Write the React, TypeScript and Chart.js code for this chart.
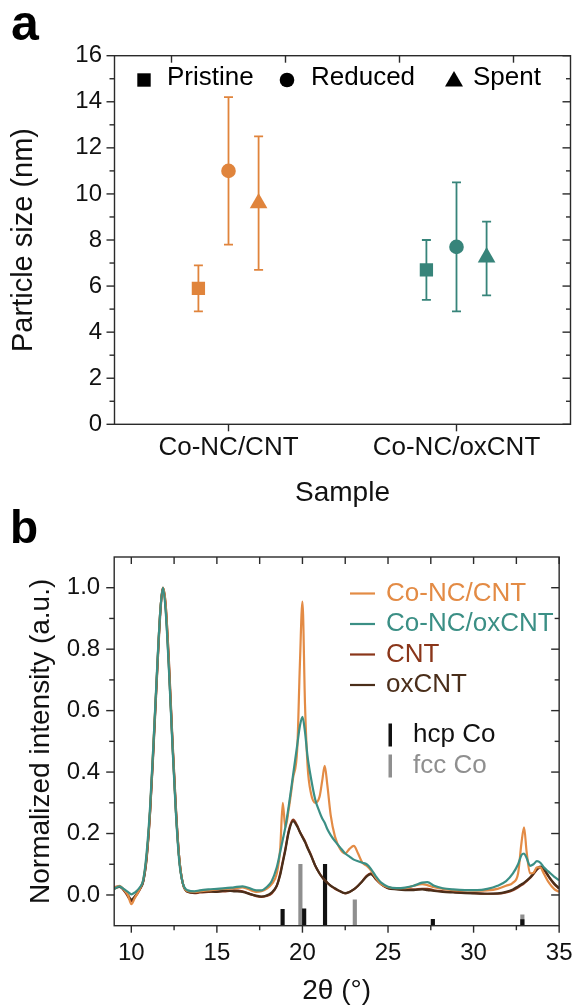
import React, { useEffect, useRef } from 'react';
import { Chart, registerables } from 'chart.js';

Chart.register(...registerables);

const FONT = "'Liberation Sans', Arial, Helvetica, sans-serif";
const TEXT = '#111111';
const FRAME = '#2a2a2a';

// ---------- Panel a: particle size ----------
const sampleLabels = ['Co-NC/CNT', 'Co-NC/oxCNT'];
const sampleColors = ['#E0843C', '#37847A'];
const stateNames = ['Pristine', 'Reduced', 'Spent'];
const pristineSize = [5.9, 6.7];
const pristineLow = [4.9, 5.4];
const pristineHigh = [6.9, 8.0];
const reducedSize = [11.0, 7.7];
const reducedLow = [7.8, 4.9];
const reducedHigh = [14.2, 10.5];
const spentSize = [9.6, 7.25];
const spentLow = [6.7, 5.6];
const spentHigh = [12.5, 8.8];
const sizeTicks = [0, 2, 4, 6, 8, 10, 12, 14, 16];
const sizeMinorTicks = [1, 3, 5, 7, 9, 11, 13, 15];
const sampleTopTicks = [0.75, 1.25, 1.75, 2.25];

// ---------- Panel b: XRD ----------
const twoTheta = [
  9.0, 9.3, 9.6, 9.8, 10.0, 10.2, 10.5, 10.7, 10.9, 11.1,
  11.3, 11.5, 11.7, 11.85, 12.0, 12.2, 12.4, 12.6, 12.8, 13.0,
  13.3, 13.7, 14.0, 14.5, 15.0, 15.5, 16.0, 16.5, 17.0, 17.3,
  17.6, 17.9, 18.2, 18.5, 18.7, 18.85, 19.0, 19.2, 19.45, 19.7,
  19.85, 20.0, 20.15, 20.3, 20.5, 20.75, 21.0, 21.15, 21.3, 21.45,
  21.65, 21.9, 22.2, 22.5, 22.75, 23.0, 23.25, 23.5, 23.75, 24.0,
  24.3, 24.6, 25.0, 25.5, 26.0, 26.5, 27.0, 27.3, 27.7, 28.2,
  28.8, 29.5, 30.2, 30.8, 31.4, 31.9, 32.3, 32.6, 32.8, 32.95,
  33.1, 33.3, 33.5, 33.7, 33.9, 34.1, 34.4, 34.7, 35.0,
];
const coNcCnt = [
  0.022, 0.030, 0.015, 0.000, -0.030, -0.010, 0.020, 0.050, 0.130, 0.280,
  0.500, 0.720, 0.930, 1.000, 0.950, 0.750, 0.500, 0.280, 0.120, 0.040,
  0.012, 0.010, 0.012, 0.015, 0.018, 0.020, 0.022, 0.025, 0.015, 0.010,
  0.012, 0.020, 0.035, 0.070, 0.150, 0.300, 0.220, 0.280, 0.380, 0.480,
  0.750, 0.955, 0.620, 0.420, 0.330, 0.300, 0.320, 0.370, 0.420, 0.360,
  0.260, 0.190, 0.150, 0.135, 0.150, 0.160, 0.135, 0.105, 0.095, 0.080,
  0.055, 0.035, 0.025, 0.022, 0.022, 0.030, 0.035, 0.032, 0.025, 0.020,
  0.016, 0.015, 0.014, 0.015, 0.020, 0.030, 0.040, 0.070, 0.170, 0.220,
  0.140, 0.070, 0.072, 0.090, 0.090, 0.070, 0.040, 0.020, 0.010,
];
const coNcOxCnt = [
  0.020, 0.028, 0.018, 0.010, 0.002, 0.008, 0.025, 0.050, 0.140, 0.290,
  0.500, 0.730, 0.930, 1.000, 0.930, 0.730, 0.490, 0.270, 0.110, 0.040,
  0.015, 0.012, 0.015, 0.018, 0.020, 0.022, 0.025, 0.028, 0.020, 0.015,
  0.015, 0.025, 0.045, 0.090, 0.140, 0.180, 0.220, 0.290, 0.390, 0.490,
  0.550, 0.580, 0.530, 0.450, 0.380, 0.310, 0.270, 0.250, 0.235, 0.215,
  0.195, 0.175, 0.155, 0.135, 0.125, 0.115, 0.110, 0.105, 0.100, 0.085,
  0.060, 0.040, 0.027, 0.022, 0.024, 0.030, 0.040, 0.042, 0.030, 0.022,
  0.018, 0.016, 0.016, 0.020, 0.030, 0.045, 0.070, 0.100, 0.130, 0.135,
  0.120, 0.095, 0.100, 0.110, 0.105, 0.090, 0.075, 0.060, 0.048,
];
const cnt = [
  0.025, 0.028, 0.012, -0.005, -0.020, -0.008, 0.018, 0.045, 0.120, 0.270,
  0.480, 0.710, 0.920, 1.000, 0.950, 0.760, 0.510, 0.290, 0.120, 0.040,
  0.010, 0.006, 0.008, 0.010, 0.012, 0.012, 0.015, 0.012, 0.002, -0.004,
  -0.006, -0.003, 0.005, 0.030, 0.070, 0.110, 0.150, 0.210, 0.245, 0.225,
  0.205, 0.190, 0.175, 0.155, 0.130, 0.095, 0.070, 0.058, 0.048, 0.040,
  0.030, 0.020, 0.012, 0.005, 0.010, 0.018, 0.030, 0.045, 0.062, 0.070,
  0.050, 0.035, 0.022, 0.020, 0.018, 0.018, 0.020, 0.020, 0.015, 0.012,
  0.010, 0.008, 0.005, 0.004, 0.004, 0.008, 0.015, 0.025, 0.032, 0.038,
  0.045, 0.055, 0.068, 0.082, 0.090, 0.082, 0.058, 0.036, 0.020,
];
const oxCnt = [
  0.020, 0.026, 0.015, 0.000, -0.015, -0.005, 0.020, 0.045, 0.125, 0.275,
  0.490, 0.720, 0.930, 1.000, 0.940, 0.740, 0.500, 0.280, 0.120, 0.040,
  0.010, 0.008, 0.010, 0.012, 0.010, 0.015, 0.012, 0.010, 0.002, -0.002,
  -0.005, -0.002, 0.008, 0.030, 0.065, 0.105, 0.145, 0.205, 0.240, 0.222,
  0.205, 0.188, 0.172, 0.152, 0.128, 0.095, 0.070, 0.058, 0.048, 0.040,
  0.030, 0.022, 0.012, 0.006, 0.010, 0.018, 0.030, 0.045, 0.060, 0.068,
  0.052, 0.035, 0.022, 0.018, 0.016, 0.016, 0.018, 0.016, 0.013, 0.010,
  0.008, 0.006, 0.005, 0.004, 0.005, 0.010, 0.018, 0.028, 0.035, 0.040,
  0.047, 0.057, 0.070, 0.085, 0.092, 0.085, 0.060, 0.038, 0.022,
];
const seriesNames = ['Co-NC/CNT', 'Co-NC/oxCNT', 'CNT', 'oxCNT'];
const seriesColors = ['#E38B45', '#3B8F85', '#8A361A', '#4A2E1A'];
const hcpPos = [18.84, 20.1, 21.32, 27.62, 32.85];
const hcpTop = [-0.047, -0.045, 0.1, -0.079, -0.08];
const fccPos = [19.88, 23.06, 32.85];
const fccTop = [0.1, -0.016, -0.065];
const refBase = -0.1;
const angleTicks = [10, 15, 20, 25, 30, 35];
const angleMinorTicks = [12.5, 17.5, 22.5, 27.5, 32.5];
const intensityTicks = [0, 0.2, 0.4, 0.6, 0.8, 1.0];
const intensityMinorTicks = [0.1, 0.3, 0.5, 0.7, 0.9];

type FrameSpec = {
  yMajor: number[];
  yMinor: number[];
  xBottomMajor: number[];
  xBottomMinor: number[];
  xTop: number[];
};

function makeFramePlugin(spec: FrameSpec) {
  return {
    id: 'frameTicks',
    afterDatasetsDraw(chart: any) {
      const { ctx, chartArea, scales } = chart;
      const { left, right, top, bottom } = chartArea;
      const xs = scales.x;
      const ys = scales.y;
      ctx.save();
      ctx.strokeStyle = FRAME;
      ctx.lineWidth = 1.4;
      ctx.strokeRect(left, top, right - left, bottom - top);
      const seg = (x1: number, y1: number, x2: number, y2: number) => {
        ctx.beginPath();
        ctx.moveTo(x1, y1);
        ctx.lineTo(x2, y2);
        ctx.stroke();
      };
      spec.yMajor.forEach((v) => {
        const y = ys.getPixelForValue(v);
        seg(left - 8, y, left, y);
        seg(right - 8, y, right, y);
      });
      spec.yMinor.forEach((v) => {
        const y = ys.getPixelForValue(v);
        seg(left - 5, y, left, y);
        seg(right - 4.5, y, right, y);
      });
      spec.xBottomMajor.forEach((v) => {
        const x = xs.getPixelForValue(v);
        seg(x, bottom, x, bottom + 7);
      });
      spec.xBottomMinor.forEach((v) => {
        const x = xs.getPixelForValue(v);
        seg(x, bottom, x, bottom + 4.5);
      });
      spec.xTop.forEach((v) => {
        const x = xs.getPixelForValue(v);
        seg(x, top, x, top + 7);
      });
      ctx.restore();
    },
  };
}

function makeLetterPlugin(letter: string, x: number, y: number, size: number) {
  return {
    id: 'panelLetter',
    afterDraw(chart: any) {
      const { ctx } = chart;
      ctx.save();
      ctx.font = `bold ${size}px ${FONT}`;
      ctx.fillStyle = '#000';
      ctx.textBaseline = 'alphabetic';
      ctx.textAlign = 'left';
      ctx.fillText(letter, x, y);
      ctx.restore();
    },
  };
}

const errorBarPlugin = {
  id: 'errorBars',
  beforeDatasetsDraw(chart: any) {
    const { ctx, scales } = chart;
    ctx.save();
    ctx.lineWidth = 1.8;
    chart.data.datasets.forEach((ds: any) => {
      ds.data.forEach((p: any, j: number) => {
        const px = scales.x.getPixelForValue(p.x);
        const yl = scales.y.getPixelForValue(ds.errLow[j]);
        const yh = scales.y.getPixelForValue(ds.errHigh[j]);
        ctx.strokeStyle = sampleColors[j];
        ctx.beginPath();
        ctx.moveTo(px, yl);
        ctx.lineTo(px, yh);
        ctx.moveTo(px - 4.5, yl);
        ctx.lineTo(px + 4.5, yl);
        ctx.moveTo(px - 4.5, yh);
        ctx.lineTo(px + 4.5, yh);
        ctx.stroke();
      });
    });
    ctx.restore();
  },
};

const legendAPlugin = {
  id: 'legendA',
  afterDatasetsDraw(chart: any) {
    const { ctx } = chart;
    const markerX = [144, 287, 454];
    const textX = [167, 311, 473];
    const my = 80;
    ctx.save();
    ctx.fillStyle = '#000';
    chart.data.datasets.forEach((ds: any, i: number) => {
      const cx = markerX[i];
      ctx.beginPath();
      if (ds.pointStyle === 'rect') {
        ctx.rect(cx - 6.7, my - 6.7, 13.4, 13.4);
      } else if (ds.pointStyle === 'circle') {
        ctx.arc(cx, my, 7.3, 0, Math.PI * 2);
      } else {
        ctx.moveTo(cx, my - 9);
        ctx.lineTo(cx + 9, my + 6.5);
        ctx.lineTo(cx - 9, my + 6.5);
        ctx.closePath();
      }
      ctx.fill();
      ctx.font = `26px ${FONT}`;
      ctx.textBaseline = 'middle';
      ctx.textAlign = 'left';
      ctx.fillText(ds.label, textX[i], 78);
    });
    ctx.restore();
  },
};

const legendBPlugin = {
  id: 'legendB',
  afterDatasetsDraw(chart: any) {
    const { ctx } = chart;
    ctx.save();
    ctx.font = `26px ${FONT}`;
    ctx.textBaseline = 'middle';
    ctx.textAlign = 'left';
    const lineYs = [93.5, 124, 154.5, 185];
    const barYs = [235, 266];
    let li = 0;
    let bi = 0;
    chart.data.datasets.forEach((ds: any) => {
      if (ds.type === 'line') {
        const y = lineYs[li++];
        ctx.strokeStyle = ds.borderColor;
        ctx.lineWidth = 2.2;
        ctx.beginPath();
        ctx.moveTo(350, y);
        ctx.lineTo(375, y);
        ctx.stroke();
        ctx.fillStyle = ds.borderColor;
        ctx.fillText(ds.label, 386, y);
      } else {
        const y = barYs[bi++];
        ctx.fillStyle = ds.backgroundColor;
        ctx.fillRect(388.5, y - 11.5, 3.5, 23);
        ctx.fillText(ds.label, 413, y);
      }
    });
    ctx.restore();
  },
};

export default function App() {
  const refA = useRef<HTMLCanvasElement>(null);
  const refB = useRef<HTMLCanvasElement>(null);

  useEffect(() => {
    const sizes = [pristineSize, reducedSize, spentSize];
    const lows = [pristineLow, reducedLow, spentLow];
    const highs = [pristineHigh, reducedHigh, spentHigh];
    const offsets = [-0.132, 0, 0.132];
    const styles = ['rect', 'circle', 'triangle'];
    const radii = [9.4, 7.3, 10.2];

    const chartA = new Chart(refA.current as HTMLCanvasElement, {
      type: 'scatter',
      data: {
        datasets: stateNames.map((name, i) => ({
          label: name,
          data: sampleLabels.map((_, j) => ({ x: j + 1 + offsets[i], y: sizes[i][j] })),
          errLow: lows[i],
          errHigh: highs[i],
          pointStyle: styles[i],
          pointRadius: radii[i],
          pointHoverRadius: radii[i],
          pointBackgroundColor: sampleColors,
          pointBorderColor: sampleColors,
          pointBorderWidth: 0,
          showLine: false,
        })) as any,
      },
      options: {
        animation: false,
        responsive: false,
        devicePixelRatio: 1,
        events: [],
        layout: { padding: { left: 0, right: 15.5, top: 55.7, bottom: 0 } },
        plugins: { legend: { display: false }, tooltip: { enabled: false } },
        scales: {
          x: {
            type: 'linear',
            min: 0.5,
            max: 2.5,
            offset: false,
            afterBuildTicks: (s: any) => {
              s.ticks = sampleLabels.map((_, j) => ({ value: j + 1 }));
            },
            afterFit: (s: any) => {
              s.height = 87.7;
            },
            ticks: {
              autoSkip: false,
              maxRotation: 0,
              callback: (v: any) => sampleLabels[Math.round(Number(v)) - 1] ?? '',
              font: { family: FONT, size: 26 },
              color: TEXT,
              padding: 8.4,
            },
            grid: { display: false, drawTicks: false },
            border: { display: false },
            title: {
              display: true,
              text: 'Sample',
              color: TEXT,
              font: { family: FONT, size: 28, lineHeight: 1 },
              padding: { top: 0, bottom: 4.7 },
            },
          },
          y: {
            type: 'linear',
            min: 0,
            max: 16,
            afterBuildTicks: (s: any) => {
              s.ticks = sizeTicks.map((v) => ({ value: v }));
            },
            afterFit: (s: any) => {
              s.width = 114.5;
            },
            ticks: {
              callback: (v: any) => String(v),
              font: { family: FONT, size: 24 },
              color: TEXT,
              padding: 12.5,
            },
            grid: { display: false, drawTicks: false },
            border: { display: false },
            title: {
              display: true,
              text: 'Particle size (nm)',
              color: TEXT,
              font: { family: FONT, size: 29, lineHeight: 1 },
              padding: { top: 9, bottom: 0 },
            },
          },
        },
      } as any,
      plugins: [
        errorBarPlugin,
        legendAPlugin,
        makeFramePlugin({
          yMajor: sizeTicks,
          yMinor: sizeMinorTicks,
          xBottomMajor: [1, 2],
          xBottomMinor: [],
          xTop: sampleTopTicks,
        }),
        makeLetterPlugin('a', 11, 40, 50),
      ],
    });

    const seriesValues = [coNcCnt, coNcOxCnt, cnt, oxCnt];
    const seriesOrder = [2, 1, 4, 3];
    const lineSets = seriesNames.map((name, k) => ({
      type: 'line',
      label: name,
      data: twoTheta.map((t, i) => ({ x: t, y: seriesValues[k][i] })),
      borderColor: seriesColors[k],
      backgroundColor: seriesColors[k],
      borderWidth: 2.2,
      pointRadius: 0,
      cubicInterpolationMode: 'monotone',
      order: seriesOrder[k],
      fill: false,
    }));
    const barSets = [
      {
        type: 'bar',
        label: 'hcp Co',
        data: hcpPos.map((p, i) => ({ x: p, y: [refBase, hcpTop[i]] })),
        backgroundColor: '#111111',
        barThickness: 3.5,
        grouped: false,
        borderWidth: 0,
        order: 5,
      },
      {
        type: 'bar',
        label: 'fcc Co',
        data: fccPos.map((p, i) => ({ x: p, y: [refBase, fccTop[i]] })),
        backgroundColor: '#8f8f8f',
        barThickness: 3.5,
        grouped: false,
        borderWidth: 0,
        order: 6,
      },
    ];

    const chartB = new Chart(refB.current as HTMLCanvasElement, {
      type: 'line',
      data: { datasets: [...lineSets, ...barSets] as any },
      options: {
        animation: false,
        responsive: false,
        devicePixelRatio: 1,
        events: [],
        layout: { padding: { left: 0, right: 16, top: 57, bottom: 0 } },
        plugins: { legend: { display: false }, tooltip: { enabled: false } },
        scales: {
          x: {
            type: 'linear',
            min: 9,
            max: 35,
            offset: false,
            afterBuildTicks: (s: any) => {
              s.ticks = angleTicks.map((v) => ({ value: v }));
            },
            afterFit: (s: any) => {
              s.height = 81.3;
            },
            ticks: {
              autoSkip: false,
              maxRotation: 0,
              callback: (v: any) => String(v),
              font: { family: FONT, size: 24 },
              color: TEXT,
              padding: 13.5,
            },
            grid: { display: false, drawTicks: false, offset: false },
            border: { display: false },
            title: {
              display: true,
              text: '2θ (°)',
              color: TEXT,
              font: { family: FONT, size: 28, lineHeight: 1 },
              padding: { top: 0, bottom: 1.3 },
            },
          },
          y: {
            type: 'linear',
            min: -0.1,
            max: 1.1,
            afterBuildTicks: (s: any) => {
              s.ticks = intensityTicks.map((v) => ({ value: v }));
            },
            afterFit: (s: any) => {
              s.width = 114.2;
            },
            ticks: {
              callback: (v: any) => Number(v).toFixed(1),
              font: { family: FONT, size: 24 },
              color: TEXT,
              padding: 14,
            },
            grid: { display: false, drawTicks: false },
            border: { display: false },
            title: {
              display: true,
              text: 'Normalized intensity (a.u.)',
              color: TEXT,
              font: { family: FONT, size: 28, lineHeight: 1 },
              padding: { top: 27, bottom: 0 },
            },
          },
        },
      } as any,
      plugins: [
        legendBPlugin,
        makeFramePlugin({
          yMajor: intensityTicks,
          yMinor: intensityMinorTicks,
          xBottomMajor: angleTicks,
          xBottomMinor: angleMinorTicks,
          xTop: [...angleTicks, ...angleMinorTicks],
        }),
        makeLetterPlugin('b', 10, 42.7, 46),
      ],
    });

    return () => {
      chartA.destroy();
      chartB.destroy();
    };
  }, []);

  return (
    <div
      style={{
        position: 'absolute',
        left: 0,
        top: 0,
        width: 586,
        height: 1007,
        background: '#ffffff',
        overflow: 'hidden',
      }}
    >
      <canvas
        ref={refA}
        width={586}
        height={512}
        style={{ position: 'absolute', left: 0, top: 0, width: 586, height: 512 }}
      />
      <canvas
        ref={refB}
        width={586}
        height={507}
        style={{ position: 'absolute', left: 0, top: 500, width: 586, height: 507 }}
      />
    </div>
  );
}
